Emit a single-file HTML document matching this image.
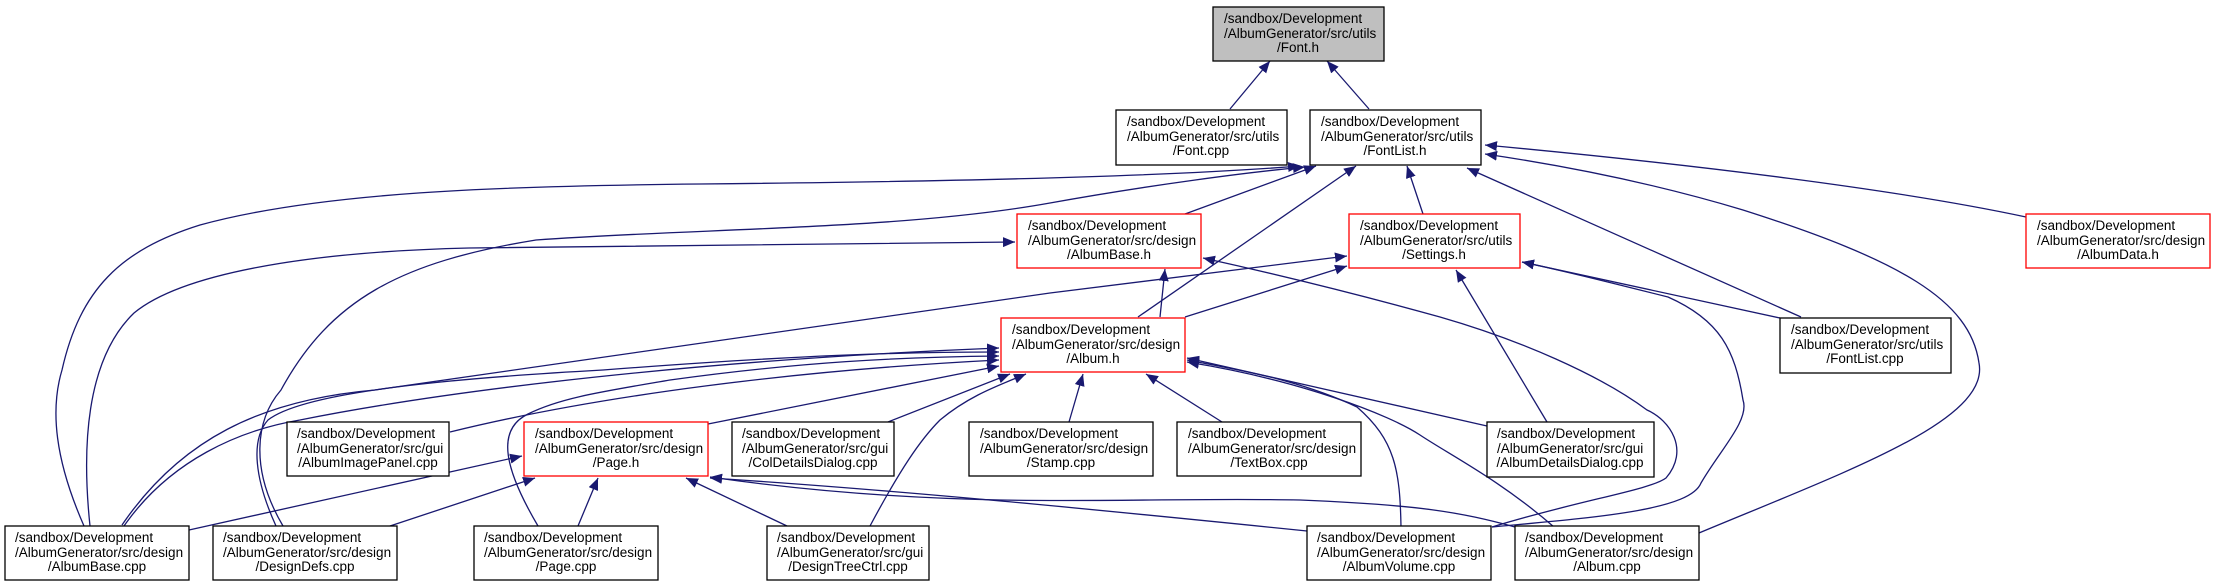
<!DOCTYPE html>
<html><head><meta charset="utf-8">
<style>
html,body{margin:0;padding:0;background:#fff;}
svg{display:block;}
text{font-family:"Liberation Sans",sans-serif;font-size:13.5px;fill:#000;}
</style></head>
<body>
<svg width="2215" height="587" viewBox="0 0 2215 587" xmlns="http://www.w3.org/2000/svg">
<defs>
<marker id="a" markerUnits="userSpaceOnUse" markerWidth="14" markerHeight="10" refX="12" refY="5" orient="auto">
<path d="M0,0 L12,5 L0,10 z" fill="#191970"/>
</marker>
</defs>
<g fill="none" stroke="#191970" stroke-width="1.3" marker-end="url(#a)">
<!-- Font.h -->
<path d="M1230,109 L1270,61"/>
<path d="M1369,109 L1327,61"/>
<!-- FontList.h -->
<path d="M84,526 C55,460 50,410 62,370 C80,290 120,250 200,225 C320,192 500,186 700,184 S1150,178 1300,166"/>
<path d="M283,526 C250,470 255,420 281,390 C330,300 400,262 536,240 C700,228 900,230 1050,203 C1150,185 1250,172 1305,167"/>
<path d="M1185,214 L1316,166"/>
<path d="M1138,317 L1356,166"/>
<path d="M1423,214 L1407,166"/>
<path d="M1801,317 L1467,168"/>
<path d="M1699,533 C1850,470 1990,420 1979,363 C1970,300 1900,260 1743,210 C1650,182 1560,165 1485,154"/>
<path d="M2026,217 C1900,190 1700,165 1485,145"/>
<!-- AlbumBase.h -->
<path d="M90,526 C82,450 85,360 134,313 C180,275 300,252 469,248 L1015,242"/>
<path d="M1160,317 L1165,269"/>
<path d="M1492,527 C1580,500 1650,490 1666,478 C1690,450 1670,420 1647,410 C1600,375 1520,340 1440,317 C1350,292 1280,275 1203,258"/>
<!-- Settings.h -->
<path d="M122,525 C180,440 260,400 375,390 L1050,293 L1347,256"/>
<path d="M1185,317 L1347,266"/>
<path d="M1547,422 L1456,270"/>
<path d="M1780,318 L1522,262"/>
<path d="M1492,527 C1600,517 1690,510 1701,483 C1720,450 1750,420 1743,400 C1735,350 1720,320 1668,297 C1600,280 1560,270 1522,262"/>
<!-- Album.h -->
<path d="M124,526 C170,460 240,430 300,420 C450,390 700,360 999,348"/>
<path d="M276,526 C255,480 250,440 268,420 C300,395 420,380 603,370 C800,355 900,352 999,352"/>
<path d="M538,526 C505,470 495,430 528,414 C560,398 600,392 670,380 C800,362 900,357 999,356"/>
<path d="M450,432 C600,395 800,370 999,360"/>
<path d="M708,424 L999,366"/>
<path d="M888,422 L1010,374"/>
<path d="M870,526 C900,470 920,440 940,420 C970,395 1000,385 1026,374"/>
<path d="M1069,422 L1083,374"/>
<path d="M1222,422 L1146,374"/>
<path d="M1487,426 L1187,358"/>
<path d="M1401,527 C1400,470 1395,440 1357,407 C1300,380 1240,370 1187,360"/>
<path d="M1554,527 C1500,480 1450,455 1420,435 C1390,415 1300,380 1187,362"/>
<!-- Page.h -->
<path d="M189,530 L522,456"/>
<path d="M390,526 L535,478"/>
<path d="M578,526 L598,478"/>
<path d="M787,526 L686,478"/>
<path d="M1307,531 C1100,510 900,490 710,478"/>
<path d="M1515,527 C1460,512 1420,505 1300,500 C1200,498 1100,502 1000,500 C900,498 800,490 710,477"/>
</g>
<g stroke-width="1.3">
<rect x="1213" y="7" width="171" height="54" fill="#bfbfbf" stroke="#000"/>
<rect x="1116" y="110" width="171" height="55" fill="#fff" stroke="#000"/>
<rect x="1310" y="110" width="171" height="55" fill="#fff" stroke="#000"/>
<rect x="1017" y="214" width="184" height="54" fill="#fff" stroke="#f00"/>
<rect x="1349" y="214" width="171" height="54" fill="#fff" stroke="#f00"/>
<rect x="2026" y="214" width="184" height="54" fill="#fff" stroke="#f00"/>
<rect x="1001" y="318" width="184" height="54" fill="#fff" stroke="#f00"/>
<rect x="1780" y="318" width="171" height="55" fill="#fff" stroke="#000"/>
<rect x="287" y="422" width="162" height="54" fill="#fff" stroke="#000"/>
<rect x="524" y="422" width="184" height="54" fill="#fff" stroke="#f00"/>
<rect x="732" y="422" width="162" height="54" fill="#fff" stroke="#000"/>
<rect x="969" y="422" width="184" height="54" fill="#fff" stroke="#000"/>
<rect x="1177" y="422" width="184" height="54" fill="#fff" stroke="#000"/>
<rect x="1487" y="422" width="167" height="55" fill="#fff" stroke="#000"/>
<rect x="5" y="526" width="184" height="54" fill="#fff" stroke="#000"/>
<rect x="213" y="526" width="184" height="54" fill="#fff" stroke="#000"/>
<rect x="474" y="526" width="184" height="54" fill="#fff" stroke="#000"/>
<rect x="767" y="526" width="162" height="54" fill="#fff" stroke="#000"/>
<rect x="1307" y="526" width="184" height="54" fill="#fff" stroke="#000"/>
<rect x="1515" y="526" width="184" height="54" fill="#fff" stroke="#000"/>
</g>
<g>
<text x="1224" y="23">/sandbox/Development</text><text x="1224" y="38">/AlbumGenerator/src/utils</text><text x="1298" y="52" text-anchor="middle">/Font.h</text>
<text x="1127" y="126">/sandbox/Development</text><text x="1127" y="141">/AlbumGenerator/src/utils</text><text x="1201" y="155" text-anchor="middle">/Font.cpp</text>
<text x="1321" y="126">/sandbox/Development</text><text x="1321" y="141">/AlbumGenerator/src/utils</text><text x="1395" y="155" text-anchor="middle">/FontList.h</text>
<text x="1028" y="230">/sandbox/Development</text><text x="1028" y="245">/AlbumGenerator/src/design</text><text x="1109" y="259" text-anchor="middle">/AlbumBase.h</text>
<text x="1360" y="230">/sandbox/Development</text><text x="1360" y="245">/AlbumGenerator/src/utils</text><text x="1434" y="259" text-anchor="middle">/Settings.h</text>
<text x="2037" y="230">/sandbox/Development</text><text x="2037" y="245">/AlbumGenerator/src/design</text><text x="2118" y="259" text-anchor="middle">/AlbumData.h</text>
<text x="1012" y="334">/sandbox/Development</text><text x="1012" y="349">/AlbumGenerator/src/design</text><text x="1093" y="363" text-anchor="middle">/Album.h</text>
<text x="1791" y="334">/sandbox/Development</text><text x="1791" y="349">/AlbumGenerator/src/utils</text><text x="1865" y="363" text-anchor="middle">/FontList.cpp</text>
<text x="297" y="438">/sandbox/Development</text><text x="297" y="453">/AlbumGenerator/src/gui</text><text x="368" y="467" text-anchor="middle">/AlbumImagePanel.cpp</text>
<text x="535" y="438">/sandbox/Development</text><text x="535" y="453">/AlbumGenerator/src/design</text><text x="616" y="467" text-anchor="middle">/Page.h</text>
<text x="742" y="438">/sandbox/Development</text><text x="742" y="453">/AlbumGenerator/src/gui</text><text x="813" y="467" text-anchor="middle">/ColDetailsDialog.cpp</text>
<text x="980" y="438">/sandbox/Development</text><text x="980" y="453">/AlbumGenerator/src/design</text><text x="1061" y="467" text-anchor="middle">/Stamp.cpp</text>
<text x="1188" y="438">/sandbox/Development</text><text x="1188" y="453">/AlbumGenerator/src/design</text><text x="1269" y="467" text-anchor="middle">/TextBox.cpp</text>
<text x="1497" y="438">/sandbox/Development</text><text x="1497" y="453">/AlbumGenerator/src/gui</text><text x="1570" y="467" text-anchor="middle">/AlbumDetailsDialog.cpp</text>
<text x="15" y="542">/sandbox/Development</text><text x="15" y="557">/AlbumGenerator/src/design</text><text x="97" y="571" text-anchor="middle">/AlbumBase.cpp</text>
<text x="223" y="542">/sandbox/Development</text><text x="223" y="557">/AlbumGenerator/src/design</text><text x="305" y="571" text-anchor="middle">/DesignDefs.cpp</text>
<text x="484" y="542">/sandbox/Development</text><text x="484" y="557">/AlbumGenerator/src/design</text><text x="566" y="571" text-anchor="middle">/Page.cpp</text>
<text x="777" y="542">/sandbox/Development</text><text x="777" y="557">/AlbumGenerator/src/gui</text><text x="848" y="571" text-anchor="middle">/DesignTreeCtrl.cpp</text>
<text x="1317" y="542">/sandbox/Development</text><text x="1317" y="557">/AlbumGenerator/src/design</text><text x="1399" y="571" text-anchor="middle">/AlbumVolume.cpp</text>
<text x="1525" y="542">/sandbox/Development</text><text x="1525" y="557">/AlbumGenerator/src/design</text><text x="1607" y="571" text-anchor="middle">/Album.cpp</text>
</g>
</svg>
</body></html>
